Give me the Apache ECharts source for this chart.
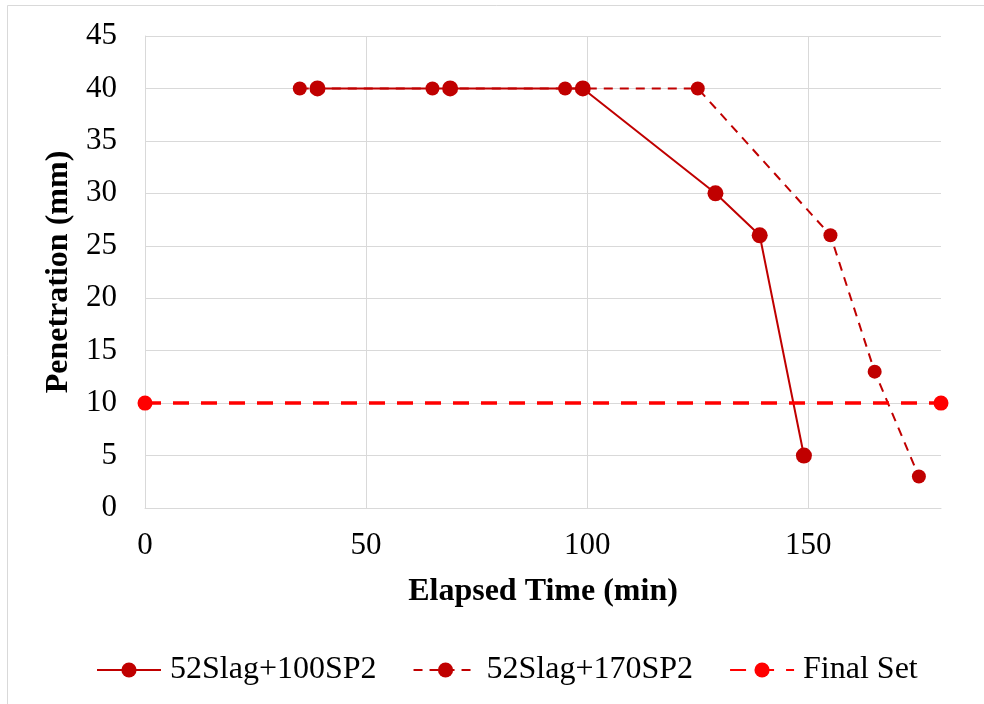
<!DOCTYPE html>
<html>
<head>
<meta charset="utf-8">
<script src="https://cdn.jsdelivr.net/npm/echarts@6/dist/echarts.min.js"></script>
<style>
html,body{margin:0;padding:0;background:#fff;}
#chart{width:984px;height:704px;}
</style>
</head>
<body>
<div id="chart"></div>
<script>
// Data
const seriesNames = ['52Slag+100SP2', '52Slag+170SP2', 'Final Set'];
const time100 = [39, 69, 99, 129, 139, 149];
const pen100 = [40, 40, 40, 30, 26, 5];
const time170 = [35, 65, 95, 125, 155, 165, 175];
const pen170 = [40, 40, 40, 40, 26, 13, 3];
const timeFinal = [0, 180];
const penFinal = [10, 10];
const xTicks = [0, 50, 100, 150];
const yTicks = [0, 5, 10, 15, 20, 25, 30, 35, 40, 45];

const pair = (xs, ys) => xs.map((x, i) => [x, ys[i]]);
const FONT = 'Liberation Serif';
const FS = 32;

const chart = echarts.init(document.getElementById('chart'), null, {renderer: 'canvas'});
chart.setOption({
  animation: false,
  backgroundColor: '#ffffff',
  graphic: [{
    type: 'rect',
    shape: {x: 7.5, y: 5.5, width: 1100, height: 1100},
    style: {fill: 'none', stroke: '#d9d9d9', lineWidth: 1},
    silent: true, z: -1
  }],
  grid: {left: 145, right: 43, top: 36, bottom: 196, containLabel: false},
  xAxis: {
    type: 'value', min: 0, max: 180, interval: 50,
    name: 'Elapsed Time (min)', nameLocation: 'middle', nameGap: 68,
    nameTextStyle: {fontFamily: FONT, fontSize: FS, fontWeight: 'bold', color: '#000'},
    axisLine: {show: true, lineStyle: {color: '#d9d9d9', width: 1}},
    axisTick: {show: false},
    axisLabel: {fontFamily: FONT, fontSize: 31, color: '#000', margin: 22, showMaxLabel: false,
      formatter: v => xTicks.includes(v) ? String(v) : ''},
    splitLine: {show: true, showMaxLine: false, lineStyle: {color: '#d9d9d9', width: 1}}
  },
  yAxis: {
    type: 'value', min: 0, max: 45, interval: 5,
    name: 'Penetration (mm)', nameLocation: 'middle', nameGap: 66,
    nameTextStyle: {fontFamily: FONT, fontSize: FS, fontWeight: 'bold', color: '#000'},
    axisLine: {show: true, lineStyle: {color: '#d9d9d9', width: 1}},
    axisTick: {show: false},
    axisLabel: {fontFamily: FONT, fontSize: 31, color: '#000', margin: 28,
      formatter: v => yTicks.includes(v) ? String(v) : ''},
    splitLine: {show: true, lineStyle: {color: '#d9d9d9', width: 1}}
  },
  legend: {
    left: 91, top: 649,
    itemWidth: 64, itemHeight: 19, itemGap: 36,
    textStyle: {fontFamily: FONT, fontSize: FS, color: '#000', padding: [0, 0, 0, 4]},
    data: seriesNames
  },
  series: [
    {
      name: seriesNames[0], type: 'line', data: pair(time100, pen100),
      symbol: 'circle', symbolSize: 16,
      itemStyle: {color: '#C00000'},
      lineStyle: {color: '#C00000', width: 2},
      z: 3
    },
    {
      name: seriesNames[1], type: 'line', data: pair(time170, pen170),
      symbol: 'circle', symbolSize: 14,
      itemStyle: {color: '#C00000'},
      lineStyle: {color: '#C00000', width: 2, type: [9, 7]},
      z: 2
    },
    {
      name: seriesNames[2], type: 'line', data: pair(timeFinal, penFinal),
      symbol: 'circle', symbolSize: 15,
      itemStyle: {color: '#FF0000'},
      lineStyle: {color: '#FF0000', width: 3.5, type: [16, 12]},
      z: 4
    }
  ]
});
</script>
</body>
</html>
